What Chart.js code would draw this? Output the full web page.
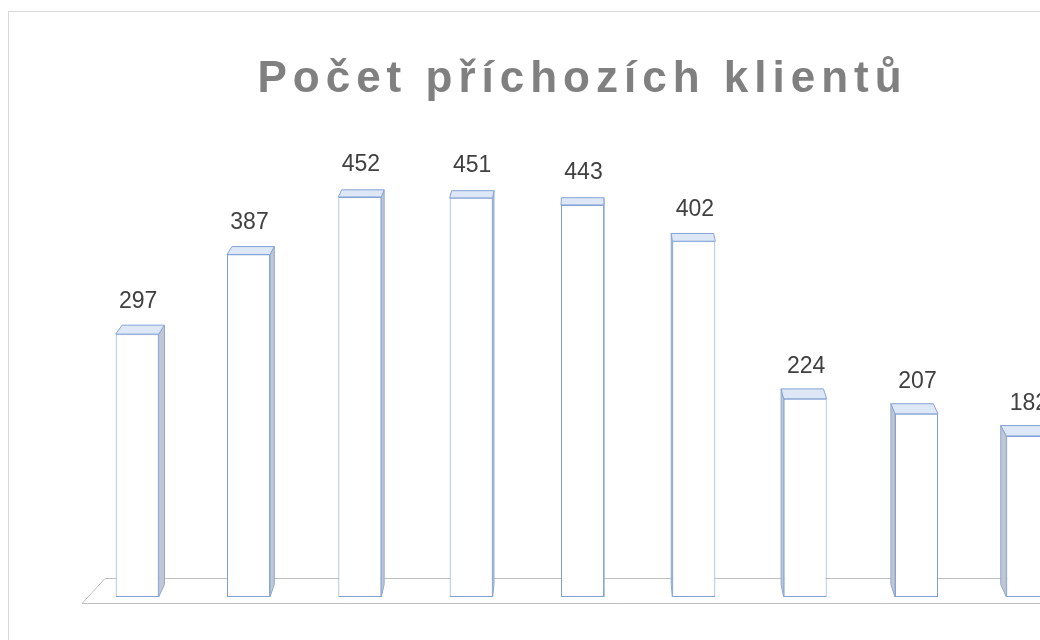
<!DOCTYPE html>
<html>
<head>
<meta charset="utf-8">
<script src="https://cdn.jsdelivr.net/npm/chart.js@4"></script>
<style>
  html, body { margin: 0; padding: 0; background: #fff; overflow: hidden; }
  #box {
    position: absolute; left: 8px; top: 11px;
    width: 1143px; height: 700px;
    border: 1px solid #d9d9d9; overflow: hidden; background: #fff;
  }
  #graf { display: block; }
</style>
</head>
<body>
<div id="box"><canvas id="graf" width="1143" height="640"></canvas></div>
<script>
const kategorie = ["1", "2", "3", "4", "5", "6", "7", "8", "9"];
const klienti = [297, 387, 452, 451, 443, 402, 224, 207, 182];
const titulek = "Počet příchozích klientů";
const osaMax = 500;

// bod ve "hloubce" - posun k úběžníku, aby sloupce vypadaly 3D
const VX = 581, VY = -345, HLOUBKA = 0.0135;
const dozadu = (x, y) => ({ x: x + (VX - x) * HLOUBKA, y: y + (VY - y) * HLOUBKA });

const mezery = {
  id: "mezery",
  beforeDraw(chart) { chart.ctx.letterSpacing = "6px"; },
  beforeDatasetsDraw(chart) {
    const ctx = chart.ctx;
    ctx.letterSpacing = "0px";
    // podlaha
    const a = chart.chartArea;
    ctx.save();
    ctx.strokeStyle = "#bfbfbf";
    ctx.lineWidth = 1;
    ctx.beginPath();
    ctx.moveTo(a.right + 120, a.bottom + 6.5);
    ctx.lineTo(a.left + 0.5, a.bottom + 6.5);
    ctx.lineTo(a.left + 23.5, a.bottom - 18.5);
    ctx.lineTo(a.right + 120, a.bottom - 18.5);
    ctx.stroke();
    ctx.restore();
  }
};

const kvadr = {
  id: "kvadr",
  afterDatasetsDraw(chart) {
    const ctx = chart.ctx;
    const meta = chart.getDatasetMeta(0);
    ctx.save();
    ctx.lineWidth = 1;
    meta.data.forEach((bar, i) => {
      const L = bar.x - bar.width / 2, R = bar.x + bar.width / 2;
      const T = bar.y, B = bar.base;
      // bocni stena
      const sx = bar.x < VX ? R : L;
      const s1 = dozadu(sx, T), s2 = dozadu(sx, B);
      ctx.beginPath();
      ctx.moveTo(sx, T); ctx.lineTo(s1.x, s1.y); ctx.lineTo(s2.x, s2.y); ctx.lineTo(sx, B);
      ctx.closePath();
      ctx.fillStyle = "#c0c7d2";
      ctx.fill();
      ctx.strokeStyle = "#8ea8d3";
      ctx.stroke();
      // horni stena
      const t1 = dozadu(L, T), t2 = dozadu(R, T);
      ctx.beginPath();
      ctx.moveTo(L, T); ctx.lineTo(R, T); ctx.lineTo(t2.x, t2.y); ctx.lineTo(t1.x, t1.y);
      ctx.closePath();
      ctx.fillStyle = "#dde7f6";
      ctx.fill();
      ctx.strokeStyle = "#86a4d6";
      ctx.stroke();
      // hodnota
      ctx.fillStyle = "#404040";
      ctx.font = "23px 'Liberation Sans', Arial, sans-serif";
      ctx.textAlign = "center";
      ctx.textBaseline = "middle";
      ctx.fillText(String(klienti[i]), bar.x + 1, T - 32);
    });
    ctx.restore();
  }
};

new Chart(document.querySelector("#graf"), {
  type: "bar",
  data: {
    labels: kategorie,
    datasets: [{
      data: klienti,
      backgroundColor: "#ffffff",
      borderColor: "#7f9fd6",
      borderWidth: 1,
      borderSkipped: false,
      barPercentage: 0.386,
      categoryPercentage: 1
    }]
  },
  options: {
    responsive: false,
    animation: false,
    layout: { padding: { left: 72.5, right: 68.5, top: 41.6, bottom: 55 } },
    scales: {
      x: { display: false },
      y: { display: false, min: 0, max: osaMax }
    },
    plugins: {
      legend: { display: false },
      tooltip: { enabled: false },
      title: {
        display: true,
        text: titulek,
        color: "#808080",
        font: { family: "'Liberation Sans', Arial, sans-serif", size: 44, weight: "bold", lineHeight: 1.2 },
        padding: { top: 0, bottom: 48.1 }
      }
    }
  },
  plugins: [mezery, kvadr]
});
</script>
</body>
</html>
